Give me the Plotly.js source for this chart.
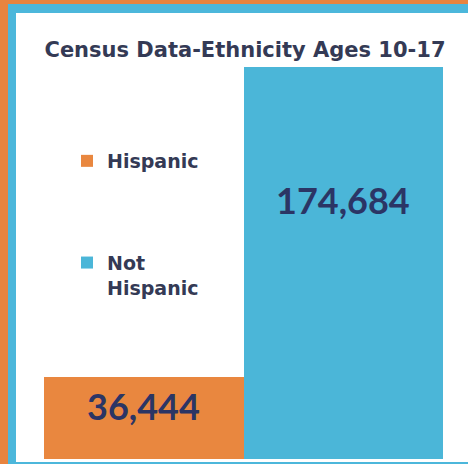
<!DOCTYPE html>
<html>
<head>
<meta charset="utf-8">
<script src="https://cdn.plot.ly/plotly-3.0.1.min.js"></script>
<style>
  html, body { margin: 0; padding: 0; background: #ffffff; }
  #wrap { position: relative; width: 468px; height: 464px; overflow: hidden; }
  #chart { position: absolute; left: 0; top: 0; width: 468px; height: 464px; }
  .stripe { position: absolute; pointer-events: none; }
</style>
</head>
<body>
<div id="wrap">
  <div id="chart"></div>
  <div class="stripe" style="left:0;top:0;width:468px;height:4px;background:#E8843F;"></div>
  <div class="stripe" style="left:0;top:0;width:8px;height:464px;background:#E8843F;"></div>
  <div class="stripe" style="left:8px;top:4px;width:460px;height:9px;background:#4CB7DB;"></div>
  <div class="stripe" style="left:8px;top:4px;width:8px;height:460px;background:#4CB7DB;"></div>
  <div class="stripe" style="left:8px;top:462px;width:460px;height:2px;background:#4CB7DB;"></div>
</div>
<script>
// ---- data ----
const categories = ["Hispanic", "Not Hispanic"];
const legendNames = ["Hispanic", "Not<br>Hispanic"];
const populations = [36444, 174684];
const barColors = ["#E9873F", "#4BB6D8"];
const chartTitle = "Census Data-Ethnicity Ages 10-17";

const labelFont = "Lato, 'Open Sans', sans-serif";
const textFont = "'DejaVu Sans', Lato, sans-serif";

const traces = categories.map((c, i) => ({
  type: "bar",
  name: legendNames[i],
  legendgroup: "g" + i,
  x: [c],
  y: [populations[i]],
  marker: { color: barColors[i], line: { width: 0 } },
  hoverinfo: "skip"
}));

const labelShift = [-29, -133];
const annotations = categories.map((c, i) => ({
  x: c,
  y: populations[i],
  xref: "x",
  yref: "y",
  text: populations[i].toLocaleString("en-US"),
  showarrow: false,
  yanchor: "middle",
  yshift: labelShift[i],
  font: { family: labelFont, size: 36, color: "#2B3565", weight: 700 }
}));

const layout = {
  width: 468,
  height: 464,
  margin: { l: 44, r: 25, t: 67, b: 5, pad: 0 },
  paper_bgcolor: "#ffffff",
  plot_bgcolor: "rgba(0,0,0,0)",
  barmode: "overlay",
  bargap: 0,
  title: {
    text: chartTitle,
    xref: "container",
    yref: "container",
    x: 245 / 468,
    xanchor: "center",
    y: 1 - 50 / 464,
    yanchor: "middle",
    font: { family: textFont, size: 21, color: "#343A55", weight: 700 }
  },
  xaxis: {
    type: "category",
    showticklabels: false,
    showgrid: false,
    zeroline: false,
    showline: false,
    ticks: ""
  },
  yaxis: {
    range: [0, Math.max(...populations)],
    showticklabels: false,
    showgrid: false,
    zeroline: false,
    showline: false,
    ticks: ""
  },
  showlegend: true,
  legend: {
    x: (67 - 44) / 399,
    xanchor: "left",
    y: (459 - 142) / 392,
    yanchor: "top",
    bgcolor: "rgba(0,0,0,0)",
    tracegroupgap: 74,
    valign: "top",
    font: { family: textFont, size: 19, color: "#343A55", weight: 700 }
  },
  annotations: annotations
};

Plotly.newPlot("chart", traces, layout, { displayModeBar: false, staticPlot: true });
</script>
</body>
</html>
